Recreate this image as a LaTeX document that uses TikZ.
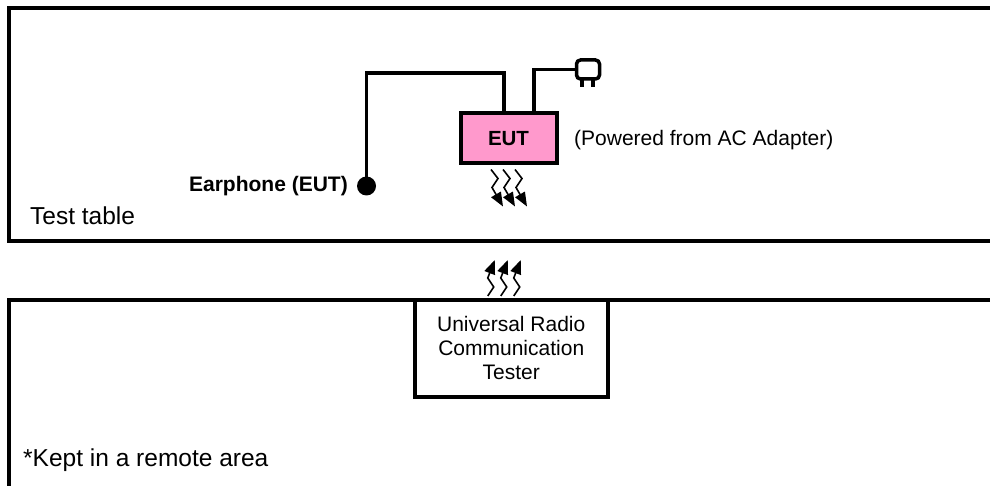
\documentclass[tikz,border=0pt]{standalone}
\usepackage{fontspec}
\setmainfont{Liberation Sans}
\usetikzlibrary{arrows.meta,calc}
\definecolor{eutpink}{HTML}{FF99CC}
\begin{document}
\begin{tikzpicture}[x=1pt,y=-1pt,
  frame/.style={line width=4pt, line join=miter},
  wire/.style={line width=3.5pt},
  wave/.style={line width=1.6pt, -{Triangle[length=14pt,width=11pt]}},
  eutbox/.style={draw, line width=4pt, fill=eutpink, minimum width=96pt, minimum height=50pt, inner sep=0pt, font=\fontsize{20.5}{24}\selectfont\bfseries},
  testerbox/.style={draw, line width=4pt, fill=white, minimum width=192.5pt, minimum height=96.5pt, inner sep=0pt, align=center, font=\fontsize{21}{24}\selectfont},
  plugbox/.style={draw, line width=3.5pt, rounded corners=4pt, minimum width=23pt, minimum height=19pt, inner sep=0pt},
  lbl/.style={inner sep=0pt, font=\fontsize{21}{24}\selectfont},
  biglbl/.style={inner sep=0pt, font=\fontsize{24.5}{28}\selectfont}
]
\useasboundingbox (0,0) rectangle (990,486);
\clip (0,0) rectangle (990,486);

% frames
\draw[frame] (1000,8) -- (9.3,8) -- (9.3,241.5) -- (1000,241.5);
\draw[frame] (1000,300) -- (9.3,300) -- (9.3,500);

% nodes
\node[eutbox] (eut) at (508.5,138.5) {EUT};
\node[testerbox] (tester) at (511.25,348.25) {Universal Radio\\Communication\\Tester};
\node[circle, fill=black, inner sep=0pt, minimum size=19pt] (ear) at (366.5,186) {};
\node[plugbox] (plug) at (588,69.5) {};

% labels
\node[lbl, font=\fontsize{21}{24}\selectfont\bfseries, anchor=base east] (earlbl) at (348,192) {Earphone (EUT)};
\node[lbl, anchor=base west] (powlbl) at (574,146) {(Powered from AC Adapter)};
\node[biglbl, anchor=base west] (tbl) at (30,225) {Test table};
\node[biglbl, anchor=base west] (remote) at (23,466) {*Kept in a remote area};

% wires
\coordinate (ein) at ($(eut.north)+(-4.5,0)$);
\coordinate (pin) at ($(eut.north)+(25.5,0)$);
\draw[wire] (ear.center) |- (ein |- 0,73) -- (ein);
\draw[wire] (pin) |- (plug.west);
\draw[wire] ($(plug.south)+(-6,-1)$) -- ++(0,7);
\draw[wire] ($(plug.south)+(5,-1)$) -- ++(0,7);

% radio waves
\foreach \i in {0,1,2} {
  \draw[wave] ($(eut.south)+(-17.5+12*\i,4)$) -- ++(7,9) -- ++(-6,9) -- ++(11,19);
  \draw[wave] ($(tester.north)+(-23.5+13*\i,-2)$) -- ++(6,-9) -- ++(-6,-9) -- ++(7,-18);
}
\end{tikzpicture}
\end{document}
